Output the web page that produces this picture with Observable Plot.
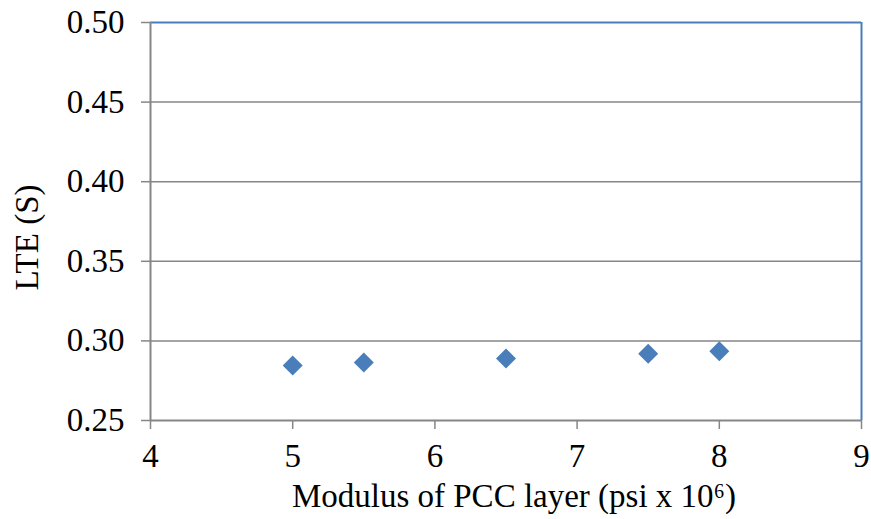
<!DOCTYPE html>
<html>
<head>
<meta charset="utf-8">
<script src="https://cdn.jsdelivr.net/npm/d3@7"></script>
<script src="https://cdn.jsdelivr.net/npm/@observablehq/plot@0.6"></script>
<style>
  html, body { margin: 0; padding: 0; background: #fff; }
  svg { display: block; }
</style>
</head>
<body>
<div id="chart"></div>
<script>
const modulus = [5, 5.5, 6.5, 7.5, 8];
const lte = [0.2845, 0.2864, 0.2889, 0.2920, 0.2935];
const xTicks = [4, 5, 6, 7, 8, 9];
const yTicks = [0.25, 0.30, 0.35, 0.40, 0.45, 0.50];
const xLabel = "Modulus of PCC layer (psi x 10\u2076)";
const yLabel = "LTE (S)";

const points = modulus.map((m, i) => ({x: m, y: lte[i]}));
const font = "Liberation Serif, Times New Roman, serif";

const chart = Plot.plot({
  width: 871,
  height: 519,
  marginLeft: 150,
  marginRight: 10,
  marginTop: 22,
  marginBottom: 99,
  style: {fontFamily: font, fontSize: "33px", color: "#000", background: "#fff"},
  x: {domain: [4, 9], ticks: xTicks},
  y: {domain: [0.25, 0.50], ticks: yTicks},
  marks: [
    Plot.gridY(yTicks.slice(1, -1), {stroke: "#868686", strokeOpacity: 1, strokeWidth: 1.5}),
    Plot.ruleY([0.50], {stroke: "#4a7ebb", strokeWidth: 2}),
    Plot.ruleX([9], {stroke: "#4a7ebb", strokeWidth: 2}),
    Plot.ruleX([4], {stroke: "#868686", strokeWidth: 2}),
    Plot.ruleY([0.25], {stroke: "#868686", strokeWidth: 2}),
    Plot.axisX(xTicks, {tickSize: 9, tickPadding: 14, stroke: "#868686", strokeWidth: 1.5, fill: "#000", fontSize: 33, tickFormat: d => String(d), label: null}),
    Plot.axisY(yTicks, {tickSize: 9, tickPadding: 17, stroke: "#868686", strokeWidth: 1.5, fill: "#000", fontSize: 33, tickFormat: d3.format(".2f"), label: null}),
    Plot.dot(points, {x: "x", y: "y", symbol: "diamond2", r: 9, fill: "#4a7ebb", stroke: "none"}),
    Plot.text([xLabel], {frameAnchor: "bottom", textAnchor: "middle", lineAnchor: "middle", dx: 8, dy: 76, fontSize: 33, fill: "#000", text: d => d}),
    Plot.text([yLabel], {frameAnchor: "left", textAnchor: "middle", lineAnchor: "middle", dx: -123, dy: 16, rotate: -90, fontSize: 33, fill: "#000", text: d => d})
  ]
});
document.getElementById("chart").appendChild(chart);
</script>
</body>
</html>
